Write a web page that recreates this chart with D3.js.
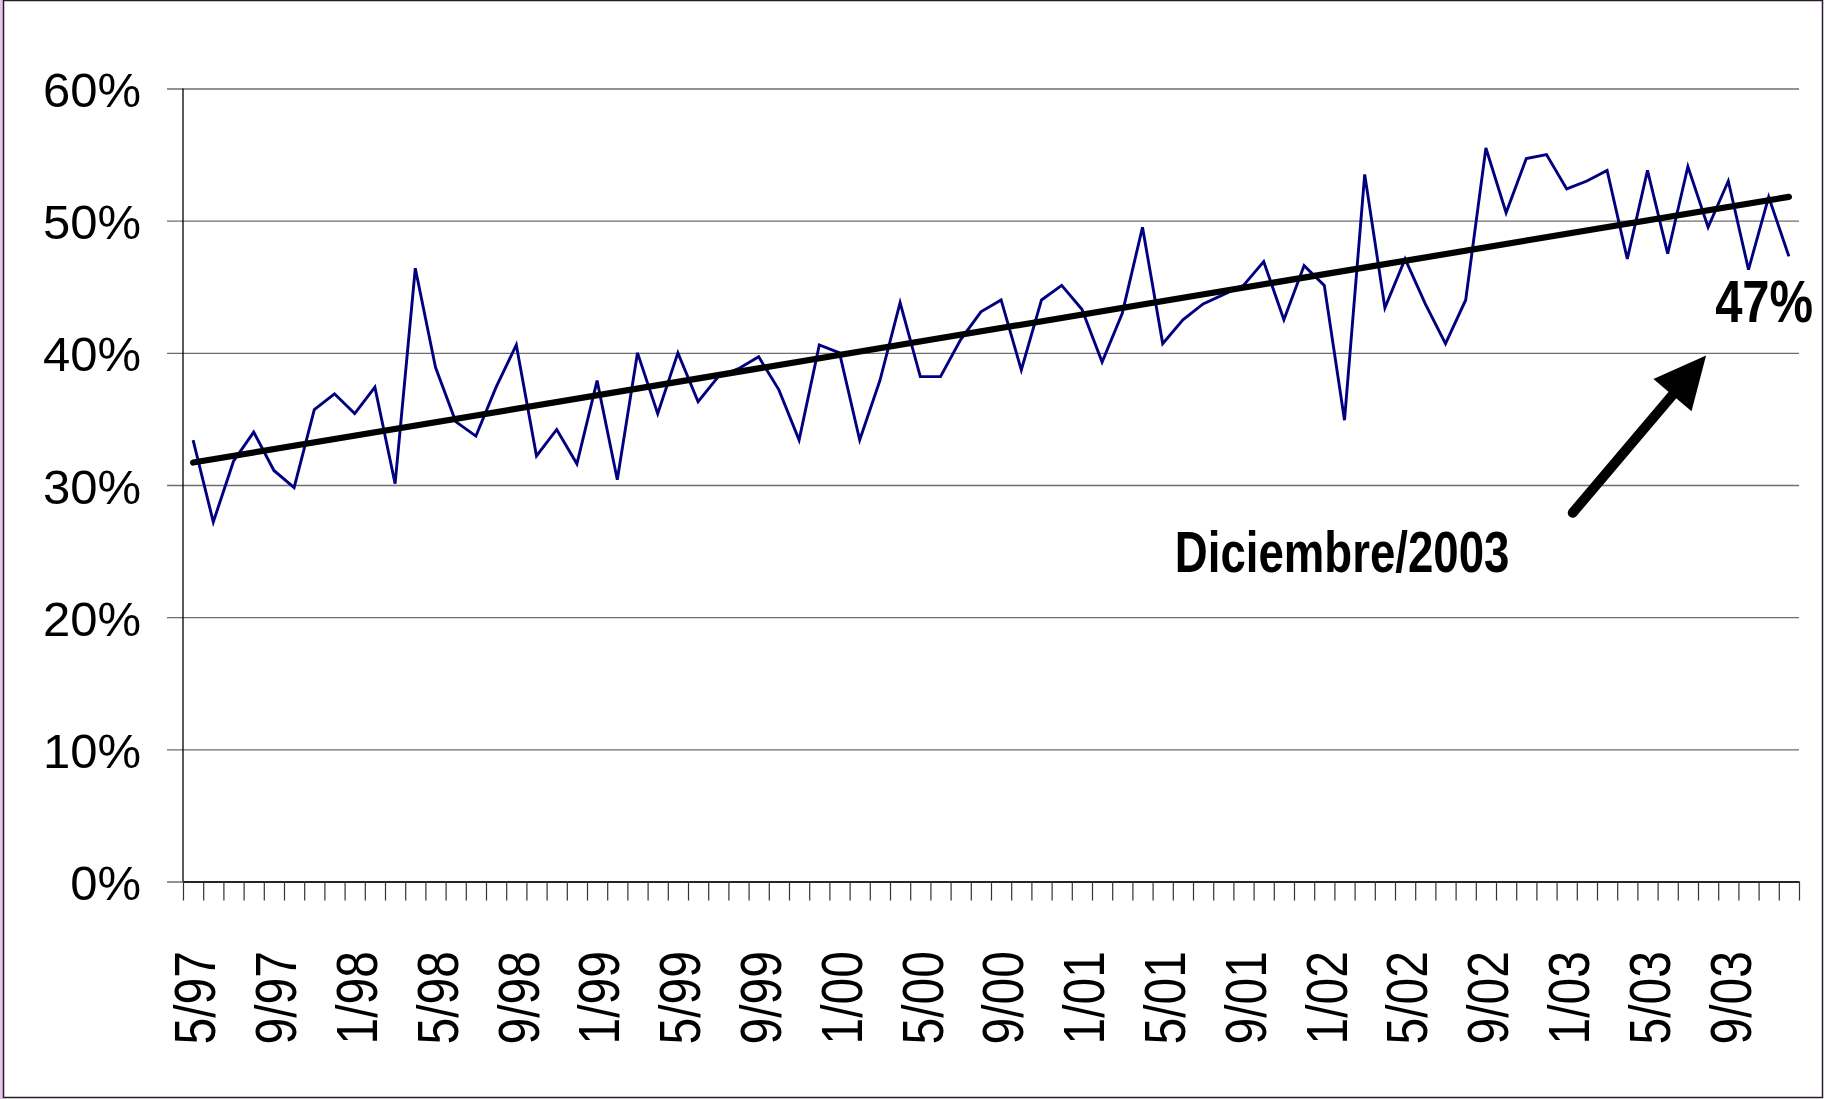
<!DOCTYPE html>
<html>
<head>
<meta charset="utf-8">
<script src="https://cdn.jsdelivr.net/npm/d3@7"></script>
<style>
  html, body { margin: 0; padding: 0; background: #fff; }
  svg { display: block; }
</style>
</head>
<body>
<script>
// ---------- DATA ----------
const categories = [
  "5/97","6/97","7/97","8/97","9/97","10/97","11/97","12/97",
  "1/98","2/98","3/98","4/98","5/98","6/98","7/98","8/98","9/98","10/98","11/98","12/98",
  "1/99","2/99","3/99","4/99","5/99","6/99","7/99","8/99","9/99","10/99","11/99","12/99",
  "1/00","2/00","3/00","4/00","5/00","6/00","7/00","8/00","9/00","10/00","11/00","12/00",
  "1/01","2/01","3/01","4/01","5/01","6/01","7/01","8/01","9/01","10/01","11/01","12/01",
  "1/02","2/02","3/02","4/02","5/02","6/02","7/02","8/02","9/02","10/02","11/02","12/02",
  "1/03","2/03","3/03","4/03","5/03","6/03","7/03","8/03","9/03","10/03","11/03","12/03"
];
const values = [
  33.4, 27.2, 31.8, 34.0, 31.1, 29.8, 35.7, 36.9,
  35.4, 37.4, 30.1, 46.4, 38.9, 34.8, 33.7, 37.4, 40.6, 32.2, 34.2, 31.6,
  37.9, 30.4, 40.0, 35.4, 40.0, 36.3, 38.2, 38.8, 39.7, 37.2, 33.4, 40.6,
  40.0, 33.4, 37.9, 43.8, 38.2, 38.2, 41.0, 43.1, 44.0, 38.7, 44.0, 45.1,
  43.3, 39.3, 43.0, 49.5, 40.7, 42.5, 43.7, 44.4, 45.1, 46.9, 42.5, 46.6,
  45.1, 34.9, 53.5, 43.4, 47.1, 43.7, 40.7, 44.0, 55.5, 50.6, 54.7, 55.0,
  52.4, 53.0, 53.8, 47.1, 53.8, 47.5, 54.1, 49.5, 53.0, 46.3, 51.8, 47.3
];
// trend line endpoints, in %
const trendStart = 31.7;
const trendEnd = 51.8;
const yTickValues = [0, 0.1, 0.2, 0.3, 0.4, 0.5, 0.6];
const xLabelEvery = 4;
const annotationText = "Diciembre/2003";
const lastValueText = "47%";

// ---------- LAYOUT ----------
const W = 1827, H = 1099;
const mLeft = 183, mRight = 1799, mTop = 88.5, mBottom = 881.5;

const svg = d3.select("body").append("svg")
  .attr("width", W).attr("height", H);

svg.append("rect").attr("x", 0).attr("y", 0).attr("width", W).attr("height", H).attr("fill", "#fff");
// frame
svg.append("rect").attr("x", 0).attr("y", 0).attr("width", 3).attr("height", H).attr("fill", "#e6c8ee");
svg.append("rect").attr("x", 3.5).attr("y", 0.5).attr("width", 1819).attr("height", 1097)
  .attr("fill", "none").attr("stroke", "#2a1a2e").attr("stroke-width", 1.5);

const n = categories.length;
const x = d3.scaleLinear().domain([0, n]).range([mLeft, mRight]);
const y = d3.scaleLinear().domain([0, 0.6]).range([mBottom, mTop]);

// y grid + labels
const yAxis = d3.axisLeft(y).tickValues(yTickValues).tickSizeOuter(0)
  .tickSize(-(mRight - mLeft)).tickFormat(d3.format(".0%"));
const gy = svg.append("g").attr("transform", `translate(${mLeft},0)`).call(yAxis);
gy.select(".domain").remove();
gy.selectAll(".tick line").attr("x1", -16).attr("x2", mRight - mLeft)
  .attr("stroke", "#6e6e6e").attr("stroke-width", 1.3);
gy.selectAll(".tick text").attr("x", -42).attr("dy", "0.37em")
  .attr("font-family", "'Liberation Sans', Arial, sans-serif")
  .attr("font-size", 49).attr("fill", "#000");

// y axis line
svg.append("line").attr("x1", mLeft).attr("x2", mLeft).attr("y1", mTop).attr("y2", mBottom)
  .attr("stroke", "#000").attr("stroke-width", 1.3);

// x axis ticks (between categories)
const xAxis = d3.axisBottom(x).tickValues(d3.range(n + 1)).tickSize(19).tickSizeOuter(0).tickFormat("");
const gx = svg.append("g").attr("transform", `translate(0,${mBottom})`).call(xAxis);
gx.select(".domain").attr("stroke", "#000").attr("stroke-width", 1.3);
gx.selectAll(".tick line").attr("stroke", "#333").attr("stroke-width", 1.2);

// x labels
svg.append("g").selectAll("text")
  .data(categories.map((c, i) => ({c, i})).filter(d => d.i % xLabelEvery === 0))
  .join("text")
  .attr("transform", d => `translate(${x(d.i + 0.5) + 2},951) rotate(-90) scale(1,1.18)`)
  .attr("text-anchor", "end")
  .attr("dy", "0.36em")
  .attr("font-family", "'Liberation Sans', Arial, sans-serif")
  .attr("font-size", 48)
  .attr("fill", "#000")
  .text(d => d.c);

// data line
const line = d3.line().x((d, i) => x(i + 0.5)).y(d => y(d / 100));
svg.append("path").datum(values)
  .attr("d", line)
  .attr("fill", "none").attr("stroke", "#000080").attr("stroke-width", 2.9)
  .attr("stroke-linejoin", "miter");

// trend line
svg.append("line")
  .attr("x1", x(0.5)).attr("y1", y(trendStart / 100))
  .attr("x2", x(n - 0.5)).attr("y2", y(trendEnd / 100))
  .attr("stroke", "#000").attr("stroke-width", 6.2).attr("stroke-linecap", "round");

// annotation: arrow
const tail = [x(68.8), y(0.279)];
const tip = [x(75.4), y(0.398)];
const adx = tip[0] - tail[0], ady = tip[1] - tail[1];
const aLen = Math.hypot(adx, ady);
const ux = adx / aLen, uy = ady / aLen;
const headLen = 52, headHalf = 25;
const base = [tip[0] - ux * headLen, tip[1] - uy * headLen];
svg.append("line")
  .attr("x1", tail[0]).attr("y1", tail[1])
  .attr("x2", base[0] + ux * 4).attr("y2", base[1] + uy * 4)
  .attr("stroke", "#000").attr("stroke-width", 10).attr("stroke-linecap", "round");
svg.append("path")
  .attr("d", `M${tip[0]},${tip[1]} L${base[0] - uy * headHalf},${base[1] + ux * headHalf} L${base[0] + uy * headHalf},${base[1] - ux * headHalf} Z`)
  .attr("fill", "#000");

// annotation texts
svg.append("text")
  .attr("transform", `translate(${x(49.1)},${y(0.2345)}) scale(0.8,1)`)
  .attr("font-family", "'Liberation Sans', Arial, sans-serif")
  .attr("font-weight", "bold").attr("font-size", 57).attr("fill", "#000")
  .text(annotationText);

svg.append("text")
  .attr("transform", `translate(${x(80.7)},${y(0.423)}) scale(0.83,1)`)
  .attr("text-anchor", "end")
  .attr("font-family", "'Liberation Sans', Arial, sans-serif")
  .attr("font-weight", "bold").attr("font-size", 59).attr("fill", "#000")
  .text(lastValueText);
</script>
</body>
</html>
